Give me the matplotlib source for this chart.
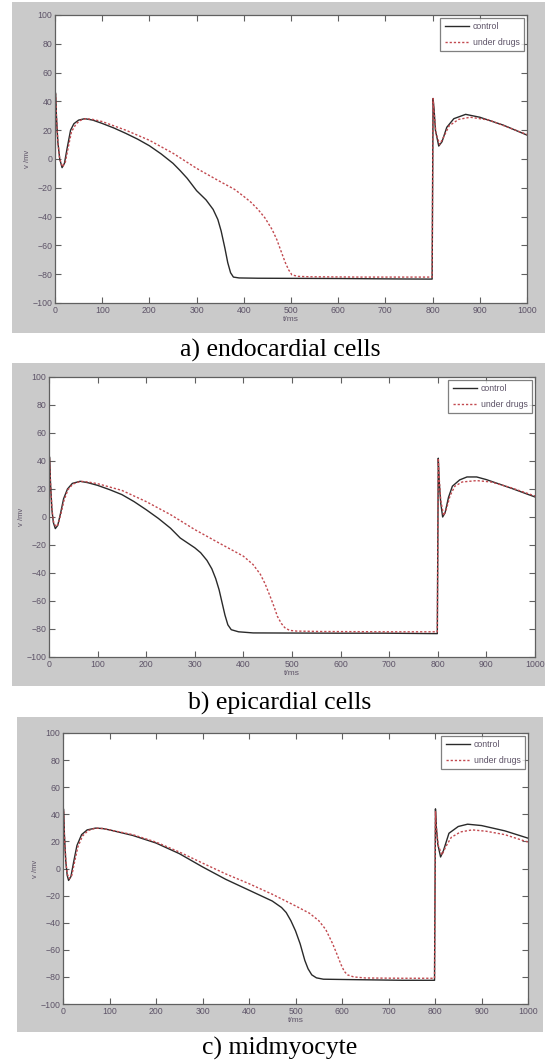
"""
Action potentials of three ventricular cell types, control vs. under drugs.
"""

import matplotlib

matplotlib.use("Agg")
import matplotlib.pyplot as plt
from matplotlib.patches import Rectangle

# a) endocardial cells ###########################################################
endo_ctrl_t = [0, 1, 3, 6, 10, 15, 20, 26, 33, 40, 50, 63, 80, 100, 125, 150, 175, 200, 225,
               250, 265, 280, 300, 320, 335, 345, 352, 360, 366, 372, 378, 390, 430, 600, 730,
               799, 801, 803, 806, 813, 820, 830, 845, 870, 900, 950, 1000]
endo_ctrl_v = [-83, 46, 30, 12, 0, -6, -3, 8, 20, 24.5, 27, 28, 27, 24.7, 21.5, 17.8, 13.8, 9.2,
               3.5, -3, -8, -13.4, -22, -28.4, -35, -42, -50, -62, -72, -79, -82, -82.6, -82.8,
               -83, -83.3, -83.4, 42, 35, 20, 9, 12, 22, 28, 31, 29, 23.5, 16.6]
endo_drug_t = [0, 1, 3, 6, 10, 16, 22, 28, 35, 45, 55, 65, 80, 100, 150, 200, 250, 300, 350, 380,
               400, 415, 430, 445, 460, 470, 480, 488, 495, 502, 515, 540, 650, 799, 801, 803,
               807, 815, 823, 835, 855, 880, 920, 960, 1000]
endo_drug_v = [-83, 45, 30, 12, 0, -5.5, -2, 8, 19, 24.5, 27, 28, 27.5, 26, 20, 13, 4, -6.5,
               -15.7, -21, -26, -30, -35, -41, -49, -56, -65, -72, -77, -80.5, -81.5, -81.8, -82,
               -82, 42, 33, 18, 10, 15, 23, 27.5, 29, 27, 22, 17]

# b) epicardial cells ############################################################
epi_ctrl_t = [0, 1, 3, 6, 9, 13, 18, 24, 30, 38, 48, 64, 80, 100, 125, 150, 175, 200, 225, 250,
              270, 285, 300, 312, 325, 335, 343, 350, 356, 362, 368, 375, 390, 420, 600, 690,
              799, 801, 803, 806, 810, 815, 822, 830, 845, 860, 880, 900, 950, 1000]
epi_ctrl_v = [-83, 43, 25, 5, -4, -8.3, -6, 3, 13, 20, 24, 25.5, 24.5, 22.6, 19.5, 16, 11, 5.2,
              -1, -8, -15, -18.5, -22, -25.5, -31, -37, -44, -52, -61, -70, -77, -80.5, -82,
              -82.8, -83, -83, -83.3, 42, 25, 10, 0, 3, 14, 22, 26.5, 28.6, 28.6, 26.7, 20.7, 14.3]
epi_drug_t = [0, 1, 3, 6, 9, 14, 19, 25, 31, 39, 49, 65, 80, 100, 150, 200, 250, 300, 350, 400,
              420, 435, 445, 455, 463, 470, 478, 485, 495, 510, 560, 700, 799, 801, 803, 806,
              812, 818, 825, 835, 850, 880, 910, 950, 1000]
epi_drug_v = [-83, 42, 25, 6, -3, -7, -5, 3, 12, 19.5, 23.5, 25.5, 25, 23.8, 19, 11, 1.7, -9,
              -18.6, -28, -34, -41, -48, -56.7, -64, -71, -76, -79, -81, -81.5, -81.8, -82, -82,
              42, 27, 12, 1, 6, 15, 22, 25, 26, 25, 21, 15]

# c) midmyocyte ##################################################################
mid_ctrl_t = [0, 1, 3, 6, 9, 12, 17, 23, 30, 40, 52, 70, 85, 100, 150, 200, 250, 300, 350, 400,
              450, 470, 480, 490, 500, 510, 520, 527, 535, 545, 560, 620, 730, 799, 801, 803,
              806, 812, 818, 830, 850, 870, 900, 950, 1000]
mid_ctrl_v = [-82, 44, 25, 5, -5, -8.8, -6, 5, 17, 25, 28.5, 29.8, 29.5, 28.5, 24.4, 18.8, 11,
              1.2, -8, -16, -24, -28.8, -32.5, -38.5, -46, -55.6, -67.8, -74, -78.5, -80.7,
              -81.7, -82, -82.5, -82.5, 44, 30, 18, 8.5, 13, 26, 31, 32.7, 31.7, 27.8, 22.4]
mid_drug_t = [0, 1, 3, 6, 9, 14, 19, 25, 32, 42, 54, 70, 85, 100, 150, 200, 250, 300, 350, 400,
              450, 500, 530, 550, 565, 580, 590, 598, 605, 612, 625, 650, 730, 799, 801, 803,
              807, 815, 823, 835, 855, 880, 910, 950, 1000]
mid_drug_v = [-82, 43, 25, 6, -4, -7.5, -5, 5, 16, 24, 28, 29.8, 29.5, 28.5, 25, 19.5, 12.2, 4,
              -4, -11.2, -19, -27.6, -33, -38.5, -45, -55.6, -64, -71, -76, -78.5, -80, -80.8,
              -81, -81, 42, 30, 17, 10, 16, 23, 27, 28.5, 27.5, 25, 19.5]

x_ticks = list(range(0, 1001, 100))
y_ticks = list(range(-100, 101, 20))
series_labels = ["control", "under drugs"]
captions = ["a) endocardial cells", "b) epicardial cells", "c) midmyocyte"]

W, H = 545, 1064
GRAY = "#cacaca"
TICK_COLOR = "#5e5468"
SPINE = "#606060"
NARROW = ["Liberation Sans Narrow", "Liberation Sans", "DejaVu Sans"]


def px_box(x0, y0, x1, y1):
    """Pixel box (top-left origin) -> figure fraction [left, bottom, width, height]."""
    return [x0 / W, (H - y1) / H, (x1 - x0) / W, (y1 - y0) / H]


def draw_panel(fig, ax_box, bg_box, cap_y, data, caption):
    bg = px_box(*bg_box)
    fig.patches.append(
        Rectangle((bg[0], bg[1]), bg[2], bg[3], transform=fig.transFigure,
                  facecolor=GRAY, edgecolor="none", zorder=-10)
    )
    ax = fig.add_axes(px_box(*ax_box))
    ax.set_zorder(5)
    ax.set_facecolor("white")
    t_c, v_c, t_d, v_d = data
    ax.plot(t_c, v_c, color="#2a2a2a", lw=1.0, label=series_labels[0])
    ax.plot(t_d, v_d, color="#c2494f", lw=1.0, ls=(0, (1.6, 1.4)), label=series_labels[1])

    ax.set_xlim(0, 1000)
    ax.set_ylim(-100, 100)
    ax.set_xticks(x_ticks)
    ax.set_yticks(y_ticks)
    ax.tick_params(direction="in", length=4, width=0.8, color=SPINE, labelcolor=TICK_COLOR,
                   labelsize=6.3, top=True, right=True, pad=2)
    for lab in ax.get_xticklabels() + ax.get_yticklabels():
        lab.set_family(NARROW)
    for s in ax.spines.values():
        s.set_color(SPINE)
        s.set_linewidth(0.9)
    ax.set_xlabel("t/ms", fontsize=6, color=TICK_COLOR, family=NARROW, labelpad=1)
    ax.set_ylabel("v /mv", fontsize=5.5, color=TICK_COLOR, family=NARROW, labelpad=1)

    leg = ax.legend(loc="upper right", frameon=True, fancybox=False,
                    handlelength=2.8, handletextpad=0.4, borderpad=0.5, labelspacing=0.7,
                    borderaxespad=0.35, prop={"family": NARROW, "size": 6.3})
    leg.get_frame().set_edgecolor(SPINE)
    leg.get_frame().set_linewidth(0.9)
    for txt in leg.get_texts():
        txt.set_color(TICK_COLOR)

    fig.text(280 / W, (H - cap_y) / H, caption, ha="center", va="center",
             fontsize=18.5, family=["Liberation Serif", "DejaVu Serif"])
    return ax


def main():
    fig = plt.figure(figsize=(W / 100, H / 100), dpi=100, facecolor="white")

    draw_panel(fig, (55, 15, 527, 303), (12, 2, 545, 333), 350,
               (endo_ctrl_t, endo_ctrl_v, endo_drug_t, endo_drug_v), captions[0])
    draw_panel(fig, (49, 377, 535, 657), (12, 363, 545, 686), 703,
               (epi_ctrl_t, epi_ctrl_v, epi_drug_t, epi_drug_v), captions[1])
    draw_panel(fig, (63, 733, 528, 1004), (17, 717, 543, 1032), 1048,
               (mid_ctrl_t, mid_ctrl_v, mid_drug_t, mid_drug_v), captions[2])

    fig.savefig("out.png", dpi=100, facecolor="white")


if __name__ == "__main__":
    main()
